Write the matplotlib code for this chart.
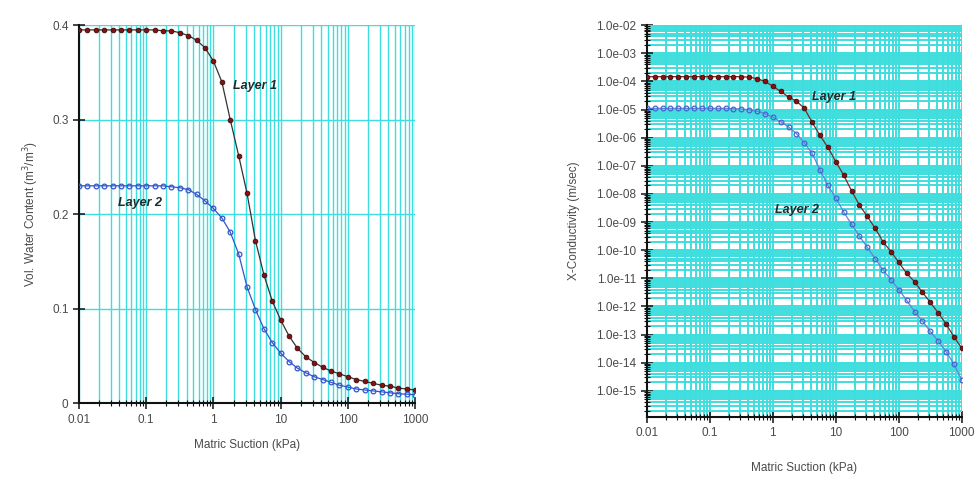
import numpy as np
import matplotlib
matplotlib.use("Agg")
import matplotlib.pyplot as plt
from matplotlib.ticker import LogLocator, FixedLocator, NullFormatter, FuncFormatter

# ---------------- data ----------------
suction = [0.01, 0.01334, 0.01778, 0.02371, 0.03162, 0.04217, 0.05623, 0.07499,
           0.1, 0.1334, 0.1778, 0.2371, 0.3162, 0.4217, 0.5623, 0.7499,
           1.0, 1.334, 1.778, 2.371, 3.162, 4.217, 5.623, 7.499,
           10.0, 13.34, 17.78, 23.71, 31.62, 42.17, 56.23, 74.99,
           100.0, 133.4, 177.8, 237.1, 316.2, 421.7, 562.3, 749.9, 1000.0]

vwc_layer1 = [0.395, 0.395, 0.395, 0.395, 0.395, 0.395, 0.395, 0.395,
              0.395, 0.395, 0.394, 0.394, 0.392, 0.389, 0.384, 0.376,
              0.362, 0.340, 0.300, 0.262, 0.222, 0.172, 0.136, 0.108,
              0.088, 0.071, 0.058, 0.049, 0.043, 0.038, 0.034, 0.031,
              0.028, 0.025, 0.023, 0.021, 0.019, 0.018, 0.016, 0.015, 0.014]

vwc_layer2 = [0.230, 0.230, 0.230, 0.230, 0.230, 0.230, 0.230, 0.230,
              0.230, 0.230, 0.230, 0.229, 0.228, 0.226, 0.221, 0.214,
              0.206, 0.196, 0.181, 0.158, 0.123, 0.099, 0.079, 0.064,
              0.053, 0.044, 0.037, 0.032, 0.028, 0.025, 0.022, 0.019,
              0.017, 0.015, 0.014, 0.013, 0.012, 0.011, 0.010, 0.0095, 0.009]

k_layer1 = [1.48e-4, 1.48e-4, 1.48e-4, 1.48e-4, 1.48e-4, 1.48e-4, 1.48e-4, 1.48e-4,
            1.48e-4, 1.48e-4, 1.48e-4, 1.48e-4, 1.48e-4, 1.41e-4, 1.26e-4, 1.0e-4,
            6.8e-5, 4.4e-5, 2.8e-5, 2.0e-5, 1.12e-5, 3.5e-6, 1.2e-6, 4.5e-7,
            1.4e-7, 4.7e-8, 1.3e-8, 4.0e-9, 1.6e-9, 6.0e-10, 2.0e-10, 8.9e-11,
            3.7e-11, 1.5e-11, 7.6e-12, 3.2e-12, 1.4e-12, 6.0e-13, 2.4e-13, 8.3e-14, 3.3e-14]

k_layer2 = [1.1e-5, 1.1e-5, 1.1e-5, 1.1e-5, 1.1e-5, 1.1e-5, 1.1e-5, 1.1e-5,
            1.1e-5, 1.1e-5, 1.1e-5, 1.07e-5, 1.05e-5, 9.8e-6, 8.7e-6, 7.1e-6,
            5.4e-6, 3.7e-6, 2.4e-6, 1.4e-6, 6.6e-7, 2.75e-7, 7.1e-8, 2.0e-8,
            7.1e-9, 2.3e-9, 8.3e-10, 3.2e-10, 1.26e-10, 5.0e-11, 2.0e-11, 8.9e-12,
            4.0e-12, 1.66e-12, 6.6e-13, 3.0e-13, 1.3e-13, 6.0e-14, 2.5e-14, 8.9e-15, 2.4e-15]

x_ticks = [0.01, 0.1, 1, 10, 100, 1000]
x_ticklabels = ["0.01", "0.1", "1", "10", "100", "1000"]
vwc_ticks = [0, 0.1, 0.2, 0.3, 0.4]
vwc_ticklabels = ["0", "0.1", "0.2", "0.3", "0.4"]
k_ticks = [1e-2, 1e-3, 1e-4, 1e-5, 1e-6, 1e-7, 1e-8, 1e-9, 1e-10, 1e-11, 1e-12, 1e-13, 1e-14, 1e-15]

# ---------------- style ----------------
plt.rcParams['font.family'] = ['Liberation Sans', 'DejaVu Sans']
text_gray = '#4a4a4a'
cyan = '#3fdede'
red_face = '#8a1010'
red_edge = '#3a0a0a'
blue = '#3355cc'
ms = 3.4

fig = plt.figure(figsize=(9.8, 4.84), dpi=100)

# ---- left: volumetric water content ----
ax1 = fig.add_axes([0.0806, 0.167, 0.343, 0.781])
ax1.set_xscale('log')
ax1.set_xlim(0.01, 1000)
ax1.set_ylim(0, 0.4)
ax1.xaxis.set_major_locator(FixedLocator(x_ticks))
ax1.set_xticklabels(x_ticklabels)
ax1.xaxis.set_minor_locator(LogLocator(base=10, subs=np.arange(2, 10), numticks=20))
ax1.xaxis.set_minor_formatter(NullFormatter())
ax1.set_yticks(vwc_ticks)
ax1.set_yticklabels(vwc_ticklabels)
ax1.grid(True, which='both', axis='x', color=cyan, lw=1.0)
ax1.grid(True, which='major', axis='y', color=cyan, lw=1.0)
ax1.set_axisbelow(True)

ax1.plot(suction, vwc_layer1, '-', color='#333333', lw=0.9, marker='o', ms=ms,
         mfc=red_face, mec=red_edge, mew=0.6, zorder=3)
ax1.plot(suction, vwc_layer2, '-', color=blue, lw=0.9, marker='o', ms=ms,
         mfc='none', mec=blue, mew=0.9, zorder=3)
ax1.text(1.95, 0.336, 'Layer 1', fontsize=9, fontweight='bold', fontstyle='italic',
         color='#1e2a2a', va='center', ha='left')
ax1.text(0.038, 0.212, 'Layer 2', fontsize=9, fontweight='bold', fontstyle='italic',
         color='#1e2a2a', va='center', ha='left')

ax1.set_xlabel('Matric Suction (kPa)', fontsize=8.5, color=text_gray, labelpad=10)
ax1.set_ylabel('Vol. Water Content (m$^3$/m$^3$)', fontsize=8.5, color=text_gray, labelpad=8)

# ---- right: conductivity ----
ax2 = fig.add_axes([0.660, 0.1384, 0.3214, 0.8096])
ax2.set_xscale('log')
ax2.set_yscale('log')
ax2.set_xlim(0.01, 1000)
ax2.set_ylim(10 ** -15.93, 1e-2)
ax2.xaxis.set_major_locator(FixedLocator(x_ticks))
ax2.set_xticklabels(x_ticklabels)
ax2.xaxis.set_minor_locator(LogLocator(base=10, subs=np.arange(2, 10), numticks=20))
ax2.xaxis.set_minor_formatter(NullFormatter())
ax2.yaxis.set_major_locator(FixedLocator(k_ticks))
ax2.yaxis.set_major_formatter(FuncFormatter(lambda v, p: '1.0e-%02d' % round(-np.log10(v))))
ax2.yaxis.set_minor_locator(LogLocator(base=10, subs=np.arange(2, 10), numticks=30))
ax2.yaxis.set_minor_formatter(NullFormatter())
ax2.grid(True, which='both', axis='both', color=cyan, lw=1.4)
ax2.set_axisbelow(True)

ax2.plot(suction, k_layer1, '-', color='#7a2a2a', lw=0.9, marker='o', ms=ms,
         mfc=red_face, mec=red_edge, mew=0.6, zorder=3)
ax2.plot(suction, k_layer2, '-', color='#6a7ee0', lw=0.9, marker='o', ms=ms,
         mfc='none', mec='#4466cc', mew=0.9, zorder=3)
ax2.text(4.2, 10 ** -4.56, 'Layer 1', fontsize=9, fontweight='bold', fontstyle='italic',
         color='#1e2a2a', va='center', ha='left')
ax2.text(1.07, 10 ** -8.57, 'Layer 2', fontsize=9, fontweight='bold', fontstyle='italic',
         color='#1e2a2a', va='center', ha='left')

ax2.set_xlabel('Matric Suction (kPa)', fontsize=8.5, color=text_gray, labelpad=16)
ax2.set_ylabel('X-Conductivity (m/sec)', fontsize=8.5, color=text_gray, labelpad=12)

for ax in (ax1, ax2):
    for s in ('top', 'right'):
        ax.spines[s].set_visible(False)
    for s in ('left', 'bottom'):
        ax.spines[s].set_linewidth(1.5)
        ax.spines[s].set_color('#111111')
    ax.tick_params(which='major', direction='inout', length=8, width=1.1,
                   labelsize=8.5, labelcolor=text_gray, color='#111111')
    ax.tick_params(which='minor', direction='inout', length=4, width=0.8, color='#111111')

fig.savefig('out.png', dpi=100)
